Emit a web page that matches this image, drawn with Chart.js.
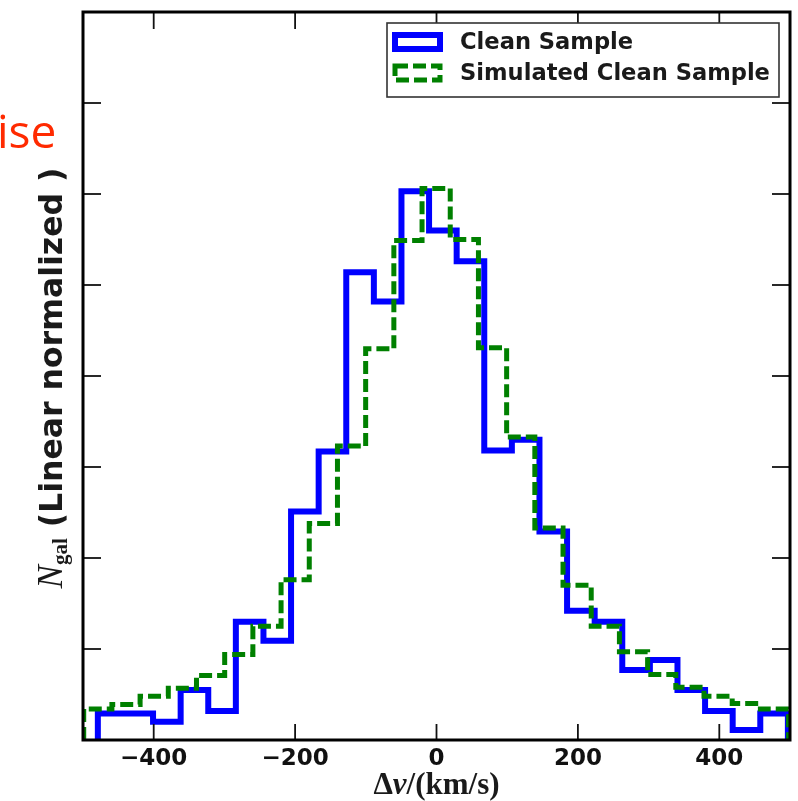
<!DOCTYPE html>
<html><head><meta charset="utf-8">
<script src="https://cdn.jsdelivr.net/npm/chart.js@4.4.0/dist/chart.umd.min.js"></script>
<style>html,body{margin:0;padding:0;background:#fff;}#wrap{position:relative;width:798px;height:801px;}</style>
</head><body><div id="wrap"><canvas id="c"></canvas></div>
<script>
// ---- data ----
const seriesNames = ['Clean Sample', 'Simulated Clean Sample'];
const cleanRange = [-479, 497];
const cleanValues = [0.29, 0.29, 0.20, 0.55, 0.32, 1.30, 1.09, 2.51, 3.17, 5.14, 4.82, 6.03, 5.60, 5.26, 3.18, 3.30, 2.29, 1.42, 1.30, 0.77, 0.88, 0.55, 0.32, 0.11, 0.29];
const simRange = [-499, 498];
const simValues = [0.34, 0.39, 0.48, 0.57, 0.71, 0.94, 1.25, 1.76, 2.38, 3.23, 4.30, 5.49, 6.06, 5.50, 4.31, 3.33, 2.33, 1.70, 1.25, 0.97, 0.72, 0.58, 0.48, 0.40, 0.34];
const xTickValues = [-400, -200, 0, 200, 400];
const xTickLabels = ['\u2212400', '\u2212200', '0', '200', '400'];
const yTickValues = [0, 1, 2, 3, 4, 5, 6, 7, 8];

function stepPoints(range, values) {
  const n = values.length, w = (range[1] - range[0]) / n;
  const pts = [{x: range[0], y: 0}];
  values.forEach((v, i) => pts.push({x: range[0] + i * w, y: v}));
  pts.push({x: range[1], y: values[n - 1]});
  pts.push({x: range[1], y: 0});
  return pts;
}

const BLUE = '#0000ff', GREEN = '#008000';

const decor = {
  id: 'decor',
  afterDatasetsDraw(chart) {
    const {ctx, chartArea: a, scales: {x, y}} = chart;
    ctx.save();
    const line = (x1, y1, x2, y2) => { ctx.beginPath(); ctx.moveTo(x1, y1); ctx.lineTo(x2, y2); ctx.stroke(); };
    ctx.strokeStyle = '#111'; ctx.lineWidth = 1.8;
    xTickValues.forEach(v => { const px = x.getPixelForValue(v); line(px, a.bottom, px, a.bottom - 16); line(px, a.top, px, a.top + 17); });
    yTickValues.forEach(v => { const py = y.getPixelForValue(v); line(a.left, py, a.left + 18, py); line(a.right, py, a.right - 18, py); });
    ctx.lineWidth = 3; ctx.strokeStyle = '#000';
    ctx.strokeRect(a.left, a.top, a.right - a.left, a.bottom - a.top);
    ctx.restore();
  },
  afterDraw(chart) {
    const {ctx, chartArea: a} = chart;
    ctx.save();
    // legend
    const lx = 387, ly = 23, lw = 392, lh = 74;
    ctx.fillStyle = '#fff'; ctx.fillRect(lx, ly, lw, lh);
    ctx.strokeStyle = '#333'; ctx.lineWidth = 1.6; ctx.strokeRect(lx, ly, lw, lh);
    ctx.lineWidth = 6; ctx.strokeStyle = BLUE; ctx.setLineDash([]);
    ctx.strokeRect(395, 35, 45, 14);
    ctx.lineWidth = 5; ctx.strokeStyle = GREEN; ctx.setLineDash([13, 5]);
    ctx.strokeRect(395, 66, 45, 14);
    ctx.setLineDash([]);
    ctx.fillStyle = '#1a1a1a'; ctx.font = 'bold 22.6px "DejaVu Sans"'; ctx.textBaseline = 'middle'; ctx.textAlign = 'left';
    ctx.fillText(seriesNames[0], 460, 43);
    ctx.fillText(seriesNames[1], 460, 74);
    // x title
    ctx.textBaseline = 'alphabetic';
    const parts = [['bold 31px "Liberation Serif"', '\u0394'], ['italic bold 31px "Liberation Serif"', 'v'], ['bold 31px "Liberation Serif"', '/(km/s)']];
    let tw = 0; parts.forEach(p => { ctx.font = p[0]; tw += ctx.measureText(p[1]).width; });
    let cx = (a.left + a.right) / 2 - tw / 2;
    parts.forEach(p => { ctx.font = p[0]; ctx.fillText(p[1], cx, 794); cx += ctx.measureText(p[1]).width; });
    // y title
    ctx.translate(62, (a.top + a.bottom) / 2 + 2);
    ctx.rotate(-Math.PI / 2);
    const yparts = [['italic 35px "Liberation Serif"', 'N', 0], ['bold 21px "Liberation Serif"', 'gal', 5], ['bold 31.5px "DejaVu Sans"', ' (Linear normalized )', 0]];
    let th = 0; yparts.forEach(p => { ctx.font = p[0]; th += ctx.measureText(p[1]).width; });
    let cy = -th / 2;
    yparts.forEach(p => { ctx.font = p[0]; ctx.fillText(p[1], cy, p[2]); cy += ctx.measureText(p[1]).width; });
    ctx.restore();
    // partial slide text
    ctx.save();
    ctx.fillStyle = '#ff2a00'; ctx.font = '46px "Open Sans"'; ctx.textBaseline = 'alphabetic';
    ctx.fillText('ise', -3, 148);
    ctx.restore();
  }
};

new Chart(document.getElementById('c'), {
  type: 'line',
  data: {
    datasets: [
      {label: seriesNames[0], data: stepPoints(cleanRange, cleanValues), borderColor: BLUE, borderWidth: 6, stepped: true, pointRadius: 0, fill: false, order: 1, borderJoinStyle: 'miter', borderCapStyle: 'butt'},
      {label: seriesNames[1], data: stepPoints(simRange, simValues), borderColor: GREEN, borderWidth: 5, borderDash: [13, 5], stepped: true, pointRadius: 0, fill: false, order: 0, borderJoinStyle: 'miter', borderCapStyle: 'butt'}
    ]
  },
  options: {
    responsive: true, maintainAspectRatio: false, animation: false,
    layout: {padding: {left: 83, right: 8, top: 12, bottom: 0}},
    plugins: {legend: {display: false}, tooltip: {enabled: false}},
    scales: {
      x: {
        type: 'linear', min: -500, max: 500,
        afterBuildTicks: s => { s.ticks = xTickValues.map(v => ({value: v})); },
        afterFit: s => { s.height = 61; },
        grid: {display: false, drawTicks: false}, border: {display: false},
        ticks: {font: {family: 'DejaVu Sans', size: 23, weight: 'bold'}, color: '#111', padding: 5, maxRotation: 0, autoSkip: false,
          callback: (v, i) => xTickLabels[i]}
      },
      y: {
        type: 'linear', min: 0, max: 8, display: false,
        afterBuildTicks: s => { s.ticks = yTickValues.map(v => ({value: v})); }
      }
    }
  },
  plugins: [decor]
});
</script>
</body></html>
